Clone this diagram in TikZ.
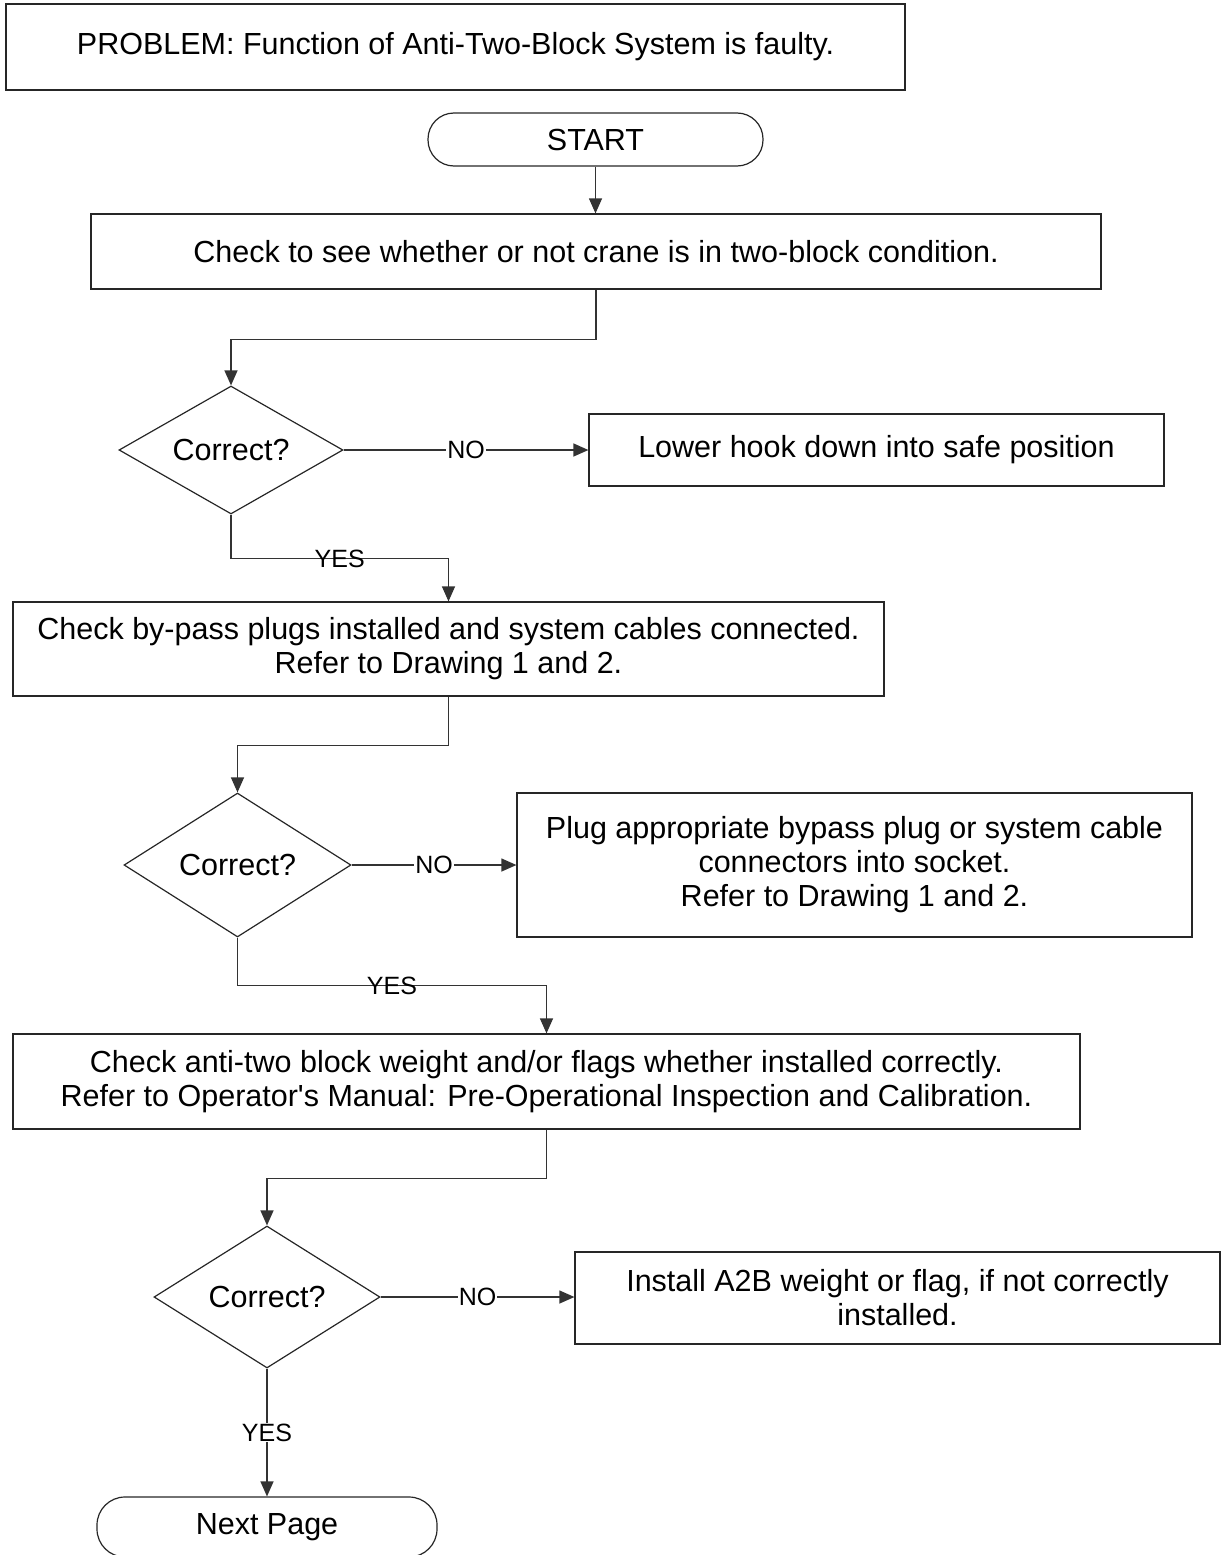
\documentclass[tikz,border=0pt]{standalone}
\usepackage{fontspec}
\setmainfont{Liberation Sans}[Ligatures=TeXOff]
\usetikzlibrary{shapes.geometric,arrows.meta}

\tikzset{
  box/.style={draw=black!85, line width=1.2pt, inner sep=0pt, align=center,
              font=\fontsize{30.5}{34}\selectfont},
  term/.style={box, rounded corners=26pt},
  decide/.style={box, diamond, aspect=1.75},
  conn/.style={draw=black!80, line width=1.2pt},
  arr/.style={conn, -{Triangle[length=15pt,width=13pt]}},
  lbl/.style={font=\fontsize{25}{28}\selectfont, inner sep=1pt},
  cutlbl/.style={lbl, fill=white}
}

\begin{document}
\begin{tikzpicture}[x=1pt,y=-1pt]
  \path[use as bounding box, clip] (0,0) rectangle (1221,1555);

  % boxes and decisions
  \node[box, minimum width=899pt, minimum height=86pt] (prob) at (455.5,47)
    {PROBLEM: Function of Anti-Two-Block System is faulty.};
  \node[term, minimum width=335pt, minimum height=53pt] (start) at (595.5,139.5) {START};
  \node[box, minimum width=1010pt, minimum height=75pt] (b1) at (596,251.5)
    {Check to see whether or not crane is in two-block condition.};
  \node[decide, minimum width=224pt, minimum height=128pt] (d1) at (231,450) {Correct?};
  \node[box, minimum width=575pt, minimum height=72pt] (lower) at (876.5,450)
    {Lower hook down into safe position};
  \node[box, minimum width=871pt, minimum height=94pt] (b2) at (448.5,649)
    {Check by-pass plugs installed and system cables connected.\\
     Refer to Drawing 1 and 2.};
  \node[decide, minimum width=227pt, minimum height=144pt] (d2) at (237.5,865) {Correct?};
  \node[box, minimum width=675pt, minimum height=144pt] (plug) at (854.5,865)
    {Plug appropriate bypass plug or system cable\\
     connectors into socket.\\
     Refer to Drawing 1 and 2.};
  \node[box, minimum width=1067pt, minimum height=95pt] (b3) at (546.5,1081.5)
    {Check anti-two block weight and/or flags whether installed correctly.\\
     Refer to Operator's Manual: Pre-Operational Inspection and Calibration.};
  \node[decide, minimum width=226pt, minimum height=142pt] (d3) at (267,1297) {Correct?};
  \node[box, minimum width=645pt, minimum height=92pt] (inst) at (897.5,1298)
    {Install A2B weight or flag, if not correctly\\ installed.};
  \node[term, rounded corners=28pt, minimum width=340pt, minimum height=60pt]
    (next) at (267,1527) {Next Page};

  % connectors
  \draw[arr] (start.south) -- (start.south |- b1.north);
  \draw[arr] (b1.south) -- ++(0,50) -| (d1.north);
  \draw[arr] (d1.east) -- node[cutlbl] {NO} (lower.west);
  \draw[arr] (d1.south) -- ++(0,44) -| node[lbl, pos=0.25] {YES} (b2.north);
  \draw[arr] (b2.south) -- ++(0,49) -| (d2.north);
  \draw[arr] (d2.east) -- node[cutlbl] {NO} (plug.west);
  \draw[arr] (d2.south) -- ++(0,48) -| node[lbl, pos=0.25] {YES} (b3.north);
  \draw[arr] (b3.south) -- ++(0,49) -| (d3.north);
  \draw[arr] (d3.east) -- node[cutlbl] {NO} (d3.east -| inst.west);
  \draw[arr] (d3.south) -- node[cutlbl] {YES} (next.north);
\end{tikzpicture}
\end{document}
